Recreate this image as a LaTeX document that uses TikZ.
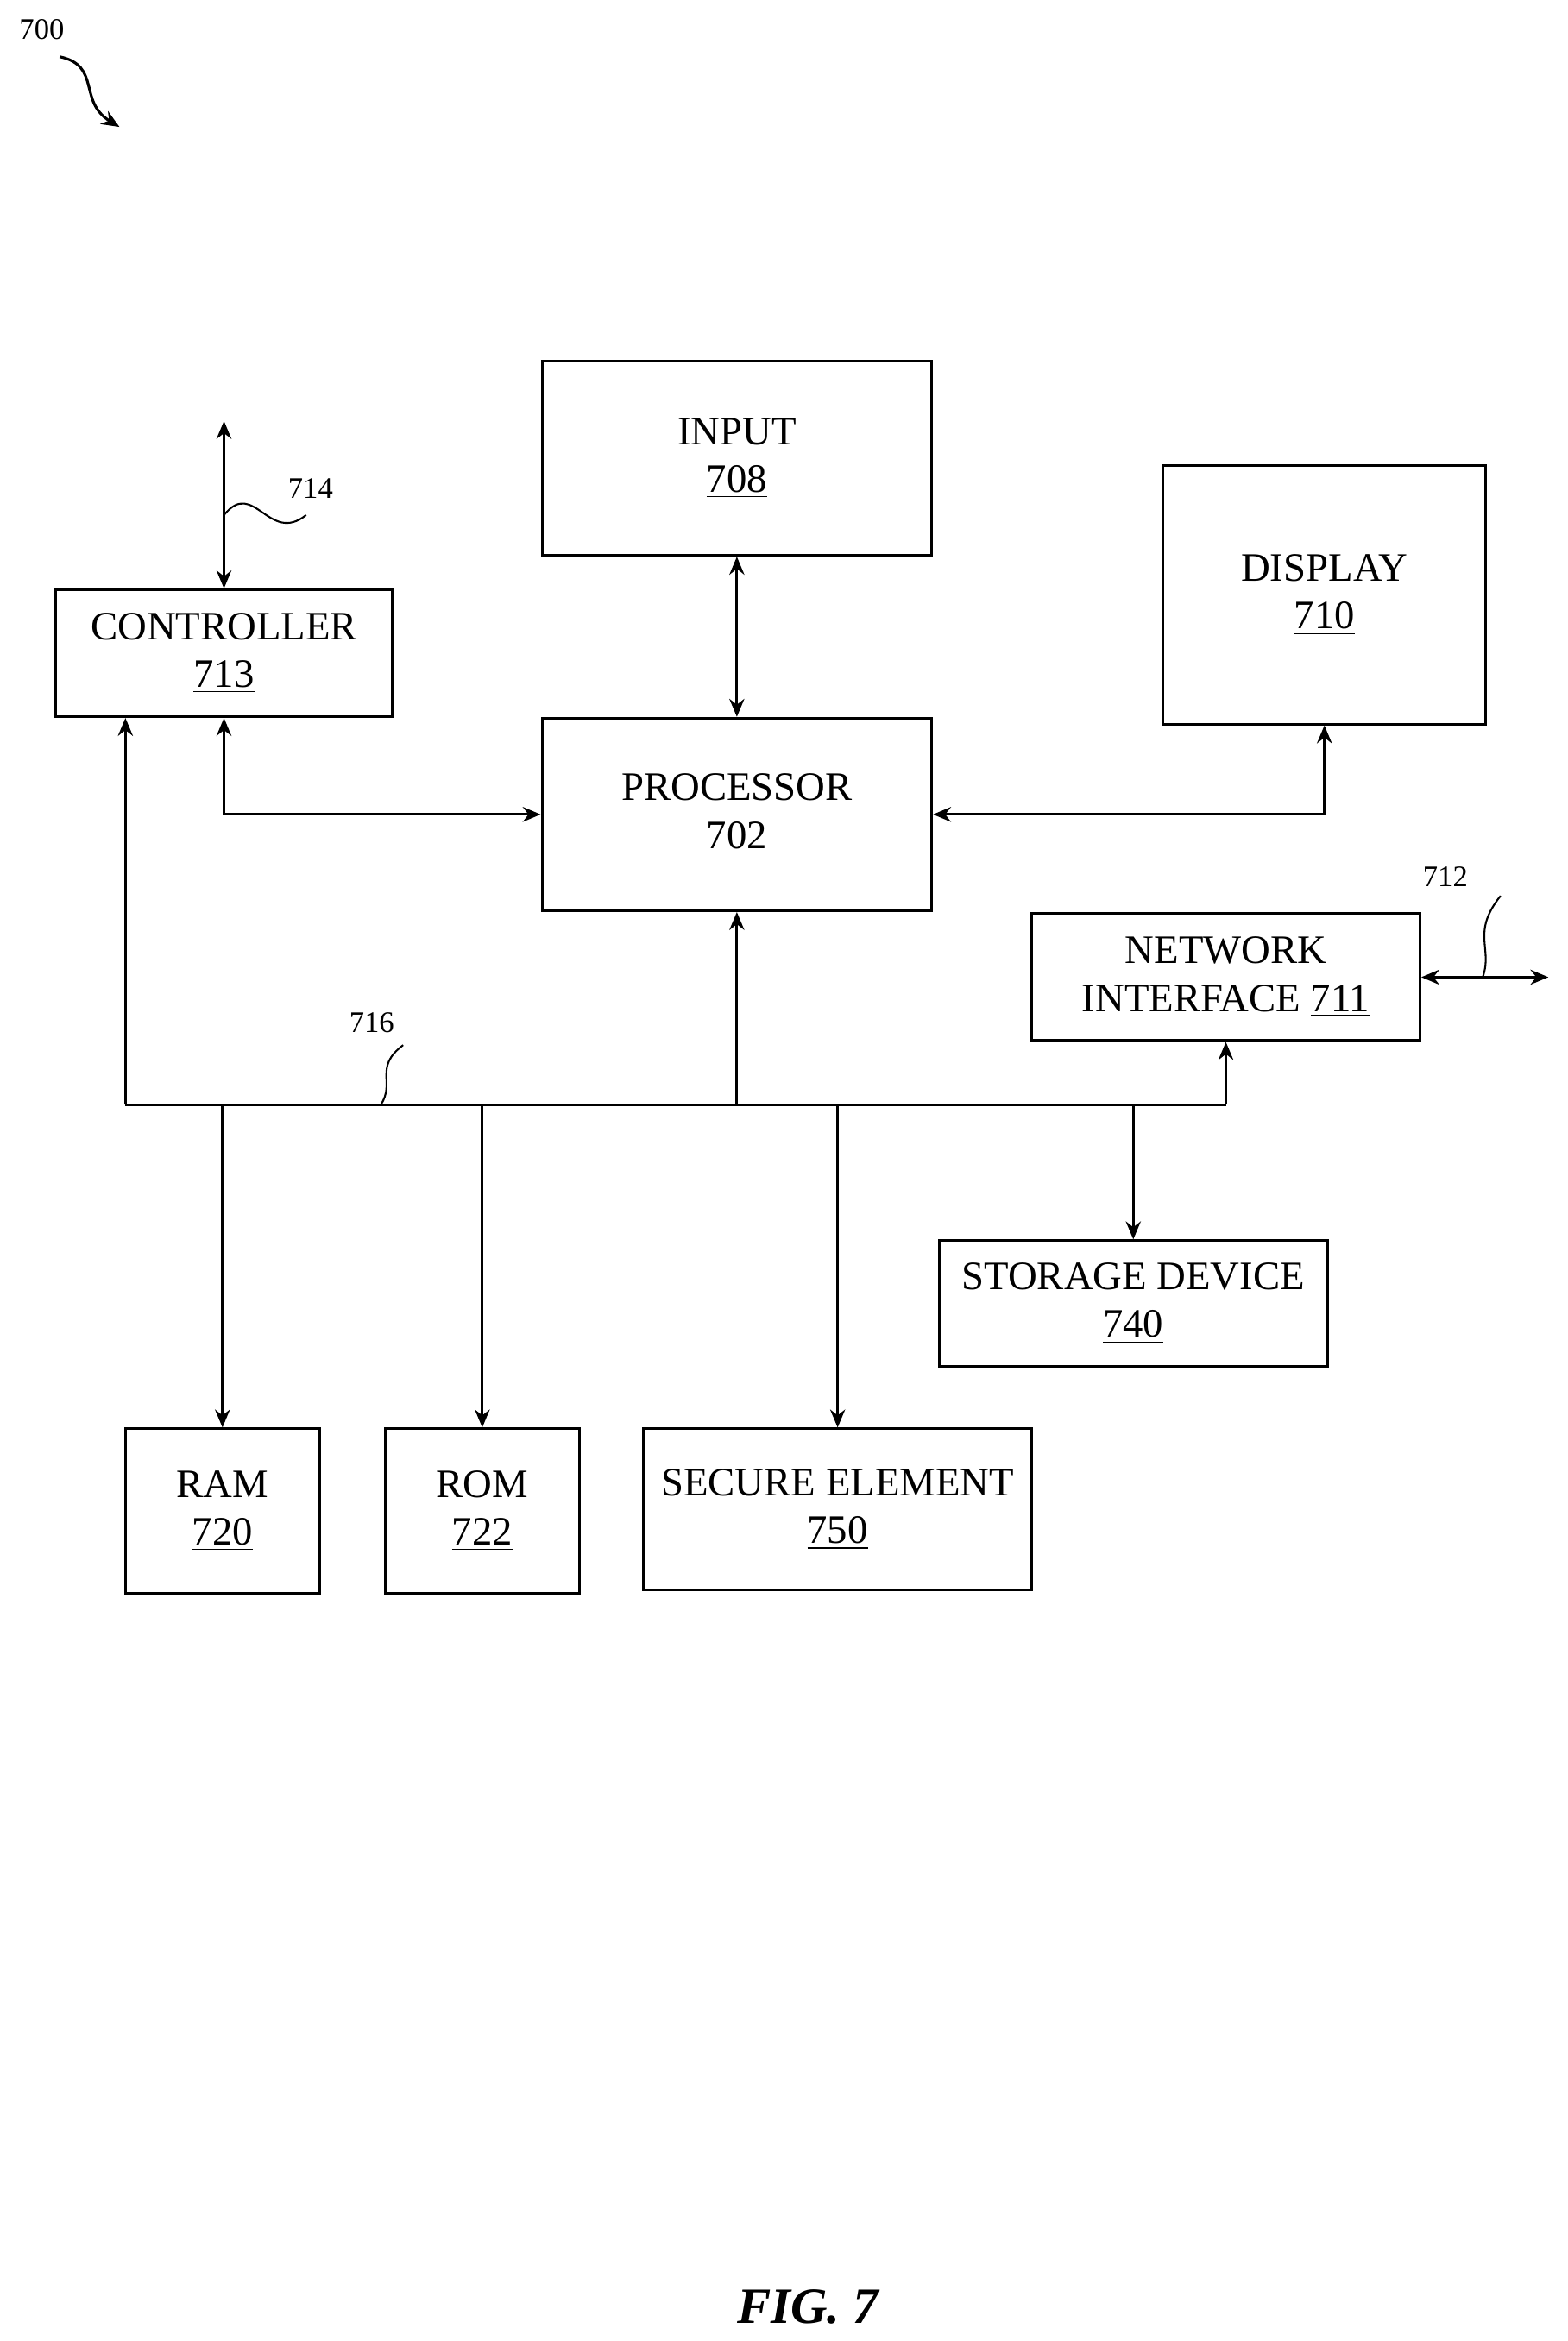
\documentclass[tikz,border=0pt]{standalone}
\usepackage{fontspec}
\setmainfont{Liberation Serif}
\usetikzlibrary{arrows.meta,positioning}
\begin{document}
\begin{tikzpicture}[x=0.5pt,y=-0.5pt,line width=0.9pt,
		box/.style={draw,line width=0.9pt,align=center,inner sep=0pt,font=\fontsize{13.5}{16}\selectfont},
		lbl/.style={font=\fontsize{10}{12}\selectfont},
		>={Stealth[length=6pt,width=5pt]}
		]
		\useasboundingbox (0,0) rectangle (1050,1568);
		
		% blocks
		\node[box,minimum width=130.5pt,minimum height=65pt] (input) at (493.5,307) {INPUT\\\underline{708}};
		\node[box,minimum width=108pt,minimum height=86.5pt] (disp) at (887,398.5) {DISPLAY\\\underline{710}};
		\node[box,minimum width=113pt,minimum height=42.5pt] (ctrl) at (150,437.5) {CONTROLLER\\\underline{713}};
		\node[box,minimum width=130.5pt,minimum height=64.5pt] (proc) at (493.5,545.5) {PROCESSOR\\\underline{702}};
		\node[box,minimum width=130pt,minimum height=42.5pt] (net) at (821,654.5) {NETWORK\\INTERFACE \underline{711}};
		\node[box,minimum width=130pt,minimum height=42pt] (stor) at (759,873) {STORAGE DEVICE\\\underline{740}};
		\node[box,minimum width=65pt,minimum height=55pt] (ram) at (149,1012) {RAM\\\underline{720}};
		\node[box,minimum width=65pt,minimum height=55pt] (rom) at (323,1012) {ROM\\\underline{722}};
		\node[box,minimum width=130pt,minimum height=54pt] (sec) at (561,1011) {SECURE ELEMENT\\\underline{750}};
		
		% labels
		\node[lbl] (l700) at (28,20) {700};
		\node[lbl] (l714) at (208,327) {714};
		\node[lbl] (l716) at (249,685) {716};
		\node[lbl] (l712) at (968,587) {712};
		\node[font=\fontsize{17}{20}\selectfont\bfseries\itshape] (fig) at (541,1545) {FIG. 7};
		
		\coordinate (busL) at (84,740);
		\coordinate (busR) at (net.south |- busL);
		\coordinate (ctrlTop) at (150,282);
		\coordinate (netEnd) at (1037,654.5);
		
		% connectors
		\draw[->] (40,38) .. controls (68,44) and (52,68) .. (80,85);
		\draw[<->] (ctrlTop) -- (ctrl.north);
		\draw[<->] (input.south) -- (proc.north);
		\draw[<->] (ctrl.south) |- (proc.west);
		\draw[<->] (disp.south) |- (proc.east);
		\draw (busL) -- (busR);
		\draw[->] (busL) -- (busL |- ctrl.south);
		\draw[->] (proc.south |- busL) -- (proc.south);
		\draw[->] (busR) -- (net.south);
		\draw[->] (ram.north |- busL) -- (ram.north);
		\draw[->] (rom.north |- busL) -- (rom.north);
		\draw[->] (sec.north |- busL) -- (sec.north);
		\draw[->] (stor.north |- busL) -- (stor.north);
		\draw[<->] (net.east) -- (netEnd);
		
		% squiggles
		\draw[line width=0.6pt] (150,345) .. controls (170,320) and (180,365) .. (205,345);
		\draw[line width=0.6pt] (255,740) .. controls (265,725) and (250,715) .. (270,700);
		\draw[line width=0.6pt] (993,654.5) .. controls (1000,635) and (985,625) .. (1005,600);
\end{tikzpicture}
\end{document}
